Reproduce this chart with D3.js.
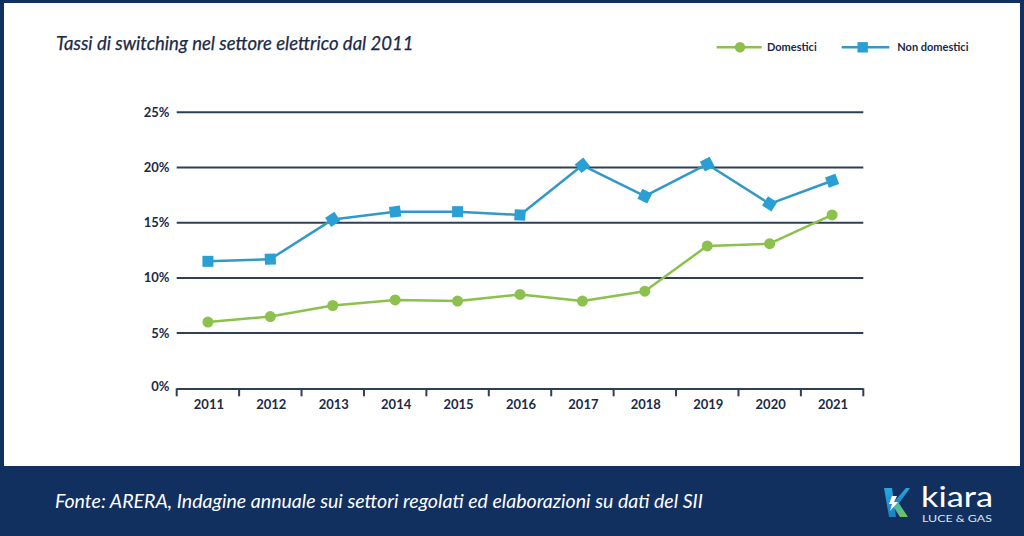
<!DOCTYPE html>
<html><head><meta charset="utf-8">
<script src="https://cdn.jsdelivr.net/npm/d3@7"></script>
<style>
html,body{margin:0;padding:0;background:#fff;}
svg{display:block;}
</style></head>
<body>
<svg id="c" width="1024" height="536"></svg>
<script>
const years = ["2011","2012","2013","2014","2015","2016","2017","2018","2019","2020","2021"];
const domestici = [6.0, 6.5, 7.5, 8.0, 7.9, 8.5, 7.9, 8.8, 12.9, 13.1, 15.7];
const nonDomestici = [11.5, 11.7, 15.3, 16.0, 16.0, 15.7, 20.2, 17.4, 20.3, 16.7, 18.8];
const yTicks = [0, 5, 10, 15, 20, 25];
const seriesNames = ["Domestici", "Non domestici"];
const title = "Tassi di switching nel settore elettrico dal 2011";
const source = "Fonte: ARERA, Indagine annuale sui settori regolati ed elaborazioni su dati del SII";

const navy = "#11305f", ink = "#1b2a46", grid = "#2f3f58";
const green = "#8bc14c", blue = "#2a9fd3", blueLine = "#3198c8";

const svg = d3.select("#c");
// frame
svg.append("rect").attr("x",0).attr("y",0).attr("width",1024).attr("height",536).attr("fill",navy);
svg.append("rect").attr("x",4).attr("y",3).attr("width",1016).attr("height",463).attr("fill","#fff");

const x = d3.scaleBand().domain(years).range([176.7, 863.3]).padding(0);
const y = d3.scaleLinear().domain([0, 25]).range([388.3, 112.3]);
const cx = d => x(d) + x.bandwidth()/2;

// title
svg.append("text").attr("x",56).attr("y",50).attr("font-family","Lato").attr("font-style","italic")
  .attr("font-size",18.5).attr("fill",ink).attr("stroke",ink).attr("stroke-width",0.25).text(title);

// gridlines
svg.append("g").selectAll("line").data(yTicks.filter(t=>t>0)).join("line")
  .attr("x1",176.7).attr("x2",863.3).attr("y1",d=>y(d)).attr("y2",d=>y(d))
  .attr("stroke",grid).attr("stroke-width",2);
// y labels
svg.append("g").selectAll("text").data(yTicks).join("text")
  .attr("x",169.5).attr("y",d=>y(d)-(d===0?1.5:0)).attr("dy","0.35em").attr("text-anchor","end")
  .attr("font-family","Lato").attr("font-weight","bold").attr("font-size",13).attr("fill",ink)
  .text(d=>d+"%");

// x axis
const ax = svg.append("g");
ax.append("line").attr("x1",176.7).attr("x2",863.3).attr("y1",y(0)+0.7).attr("y2",y(0)+0.7)
  .attr("stroke",grid).attr("stroke-width",2);
const tickPos = years.map(d=>x(d)).concat([x(years[years.length-1])+x.bandwidth()]);
ax.selectAll("line.t").data(tickPos).join("line").attr("class","t")
  .attr("x1",d=>d).attr("x2",d=>d).attr("y1",y(0)).attr("y2",y(0)+8)
  .attr("stroke",grid).attr("stroke-width",2);
ax.selectAll("text").data(years).join("text")
  .attr("x",d=>cx(d)+1).attr("y",408.5).attr("text-anchor","middle")
  .attr("font-family","Lato").attr("font-weight","bold").attr("font-size",13).attr("fill",ink)
  .text(d=>d);

// lines
const line = d3.line().x((d,i)=>cx(years[i])).y(d=>y(d));
svg.append("path").datum(nonDomestici).attr("d",line).attr("fill","none")
  .attr("stroke",blueLine).attr("stroke-width",2.5).attr("stroke-linejoin","round");
svg.append("path").datum(domestici).attr("d",line).attr("fill","none")
  .attr("stroke",green).attr("stroke-width",2.5).attr("stroke-linejoin","round");

// markers
svg.append("g").selectAll("rect").data(nonDomestici).join("rect")
  .attr("x",-5.5).attr("y",-5.5).attr("width",11).attr("height",11).attr("fill",blue)
  .attr("transform",(d,i)=>{
    const px = cx(years[i]), py = y(d);
    let a = 0;
    if (i>0) a = Math.atan2(py - y(nonDomestici[i-1]), px - cx(years[i-1]))*180/Math.PI;
    return `translate(${px},${py}) rotate(${a})`;
  });
svg.append("g").selectAll("circle").data(domestici).join("circle")
  .attr("cx",(d,i)=>cx(years[i])).attr("cy",d=>y(d)).attr("r",5.5).attr("fill",green);

// legend
const lg = svg.append("g").attr("font-family","Lato").attr("font-weight","bold").attr("font-size",11).attr("fill",ink);
lg.append("line").attr("x1",716.7).attr("x2",761.7).attr("y1",47.3).attr("y2",47.3).attr("stroke",green).attr("stroke-width",2.5);
lg.append("circle").attr("cx",740).attr("cy",47.3).attr("r",5.2).attr("fill",green);
lg.append("text").attr("x",767).attr("y",47.3).attr("dy","0.35em").text(seriesNames[0]);
lg.append("line").attr("x1",841.7).attr("x2",889.3).attr("y1",47.3).attr("y2",47.3).attr("stroke",blueLine).attr("stroke-width",2.5);
lg.append("rect").attr("x",857.5).attr("y",42.1).attr("width",10.4).attr("height",10.4).attr("fill",blue);
lg.append("text").attr("x",897.3).attr("y",47.3).attr("dy","0.35em").text(seriesNames[1]);

// footer
svg.append("text").attr("x",55).attr("y",508).attr("font-family","Lato").attr("font-style","italic")
  .attr("font-size",20).attr("fill","#fff").attr("textLength",648).attr("lengthAdjust","spacingAndGlyphs")
  .text(source);

// logo
const defs = svg.append("defs");
const g1 = defs.append("linearGradient").attr("id","kb").attr("x1","0").attr("y1","0").attr("x2","0").attr("y2","1");
g1.append("stop").attr("offset","0").attr("stop-color","#2aa6e0");
g1.append("stop").attr("offset","1").attr("stop-color","#1e7fc0");
const g2 = defs.append("linearGradient").attr("id","kg").attr("x1","0").attr("y1","0").attr("x2","1").attr("y2","1");
g2.append("stop").attr("offset","0").attr("stop-color","#3fb8c8");
g2.append("stop").attr("offset","1").attr("stop-color","#7cc243");
const logo = svg.append("g");
logo.append("path").attr("d","M884,488 L892,488 L896,517 L889,517 Z").attr("fill","url(#kb)");
logo.append("path").attr("d","M893,503 L906,488 L910,488 L897,506 Z").attr("fill","url(#kb)");
logo.append("path").attr("d","M893,506 L898,502 L908,517 L900,517 Z").attr("fill","url(#kg)");
logo.append("path").attr("d","M892,496 L897,496 L894,502 L898,502 L890,511 L892,504 L889,504 Z").attr("fill","#fff");
logo.append("text").attr("x",921).attr("y",506.5).attr("font-family","Lato").attr("font-size",28)
  .attr("fill","#fff").attr("textLength",72).attr("lengthAdjust","spacingAndGlyphs").text("kiara");
logo.append("text").attr("x",922).attr("y",522).attr("font-family","Lato").attr("font-size",9.5)
  .attr("fill","#dfe6f0").attr("textLength",70).attr("lengthAdjust","spacingAndGlyphs").text("LUCE & GAS");
</script>
</body></html>
